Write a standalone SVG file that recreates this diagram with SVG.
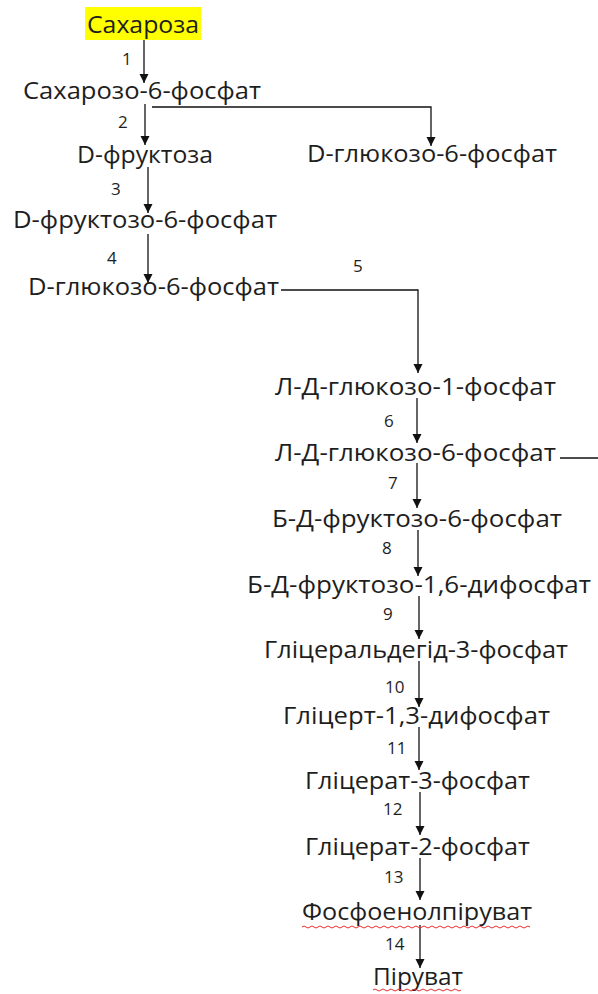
<svg xmlns="http://www.w3.org/2000/svg" width="598" height="994" viewBox="0 0 598 994">
<defs>
<style>
.t{font-family:"Open Sans","Noto Sans","DejaVu Sans",sans-serif;font-size:23px;fill:#1e1e1e}
.n{font-family:"Open Sans","Noto Sans","DejaVu Sans",sans-serif;font-size:17px;fill:#1e1e1e}
.c{stroke:#111;stroke-width:1.3;fill:none}
.w{stroke:#e03030;stroke-width:1;fill:none}
</style>
<marker id="ah" markerWidth="9" markerHeight="10" refX="9" refY="4.5" orient="auto" markerUnits="userSpaceOnUse">
<path d="M0,0 L9,4.5 L0,9 z" fill="#111"/>
</marker>
</defs>
<rect width="598" height="994" fill="#fff"/>
<g id="connectors">
<line class="c" x1="144" y1="36" x2="144" y2="83" marker-end="url(#ah)"/>
<line class="c" x1="145" y1="104" x2="145" y2="145" marker-end="url(#ah)"/>
<polyline class="c" points="152,107 431,107 431,146" marker-end="url(#ah)"/>
<line class="c" x1="148" y1="167" x2="148" y2="213" marker-end="url(#ah)"/>
<line class="c" x1="148" y1="234" x2="148" y2="283" marker-end="url(#ah)"/>
<polyline class="c" points="281,290 418,290 418,373" marker-end="url(#ah)"/>
<line class="c" x1="417" y1="398" x2="417" y2="443" marker-end="url(#ah)"/>
<line class="c" x1="560" y1="458" x2="598" y2="458"/>
<line class="c" x1="417" y1="463" x2="417" y2="508" marker-end="url(#ah)"/>
<line class="c" x1="418" y1="530" x2="418" y2="576" marker-end="url(#ah)"/>
<line class="c" x1="419" y1="596" x2="419" y2="639" marker-end="url(#ah)"/>
<line class="c" x1="419" y1="661" x2="419" y2="707" marker-end="url(#ah)"/>
<line class="c" x1="419" y1="727" x2="419" y2="770" marker-end="url(#ah)"/>
<line class="c" x1="420" y1="792" x2="420" y2="835" marker-end="url(#ah)"/>
<line class="c" x1="420" y1="858" x2="420" y2="900" marker-end="url(#ah)"/>
<line class="c" x1="420" y1="925" x2="420" y2="968" marker-end="url(#ah)"/>
</g>
<g id="n-sakharoza"><rect x="85" y="7" width="116" height="33" fill="#ffff00"/><text class="t" x="87" y="33" textLength="112" lengthAdjust="spacingAndGlyphs">Сахароза</text></g>
<g id="n-s6f"><text class="t" x="23" y="99" textLength="238" lengthAdjust="spacingAndGlyphs">Сахарозо-6-фосфат</text></g>
<g id="n-fruktoza"><text class="t" x="77" y="163" textLength="136" lengthAdjust="spacingAndGlyphs">D-фруктоза</text></g>
<g id="n-g6f-right"><text class="t" x="307" y="162" textLength="250" lengthAdjust="spacingAndGlyphs">D-глюкозо-6-фосфат</text></g>
<g id="n-f6f"><text class="t" x="13" y="228" textLength="264" lengthAdjust="spacingAndGlyphs">D-фруктозо-6-фосфат</text></g>
<g id="n-g6f"><text class="t" x="28" y="295" textLength="251" lengthAdjust="spacingAndGlyphs">D-глюкозо-6-фосфат</text></g>
<g id="n-ldg1f"><text class="t" x="275" y="395" textLength="281" lengthAdjust="spacingAndGlyphs">Л-Д-глюкозо-1-фосфат</text></g>
<g id="n-ldg6f"><text class="t" x="275" y="461" textLength="281" lengthAdjust="spacingAndGlyphs">Л-Д-глюкозо-6-фосфат</text></g>
<g id="n-bdf6f"><text class="t" x="272" y="527" textLength="290" lengthAdjust="spacingAndGlyphs">Б-Д-фруктозо-6-фосфат</text></g>
<g id="n-bdf16"><text class="t" x="247" y="593" textLength="344" lengthAdjust="spacingAndGlyphs">Б-Д-фруктозо-1,6-дифосфат</text></g>
<g id="n-gald"><text class="t" x="264" y="658" textLength="304" lengthAdjust="spacingAndGlyphs">Гліцеральдегід-3-фосфат</text></g>
<g id="n-g13"><text class="t" x="283" y="724" textLength="267" lengthAdjust="spacingAndGlyphs">Гліцерт-1,3-дифосфат</text></g>
<g id="n-g3f"><text class="t" x="305" y="789" textLength="225" lengthAdjust="spacingAndGlyphs">Гліцерат-3-фосфат</text></g>
<g id="n-g2f"><text class="t" x="305" y="855" textLength="225" lengthAdjust="spacingAndGlyphs">Гліцерат-2-фосфат</text></g>
<g id="n-pep"><text class="t" x="302" y="920" textLength="230" lengthAdjust="spacingAndGlyphs">Фосфоенолпіруват</text><path class="w" d="M302,927 q2,-2 4,0 t4,0 t4,0 t4,0 t4,0 t4,0 t4,0 t4,0 t4,0 t4,0 t4,0 t4,0 t4,0 t4,0 t4,0 t4,0 t4,0 t4,0 t4,0 t4,0 t4,0 t4,0 t4,0 t4,0 t4,0 t4,0 t4,0 t4,0 t4,0 t4,0 t4,0 t4,0 t4,0 t4,0 t4,0 t4,0 t4,0 t4,0 t4,0 t4,0 t4,0 t4,0 t4,0 t4,0 t4,0 t4,0 t4,0 t4,0 t4,0 t4,0 t4,0 t4,0 t4,0 t4,0 t4,0 t4,0 t4,0"/></g>
<g id="n-piruvat"><text class="t" x="373" y="985" textLength="90" lengthAdjust="spacingAndGlyphs">Піруват</text><path class="w" d="M373,990 q2,-2 4,0 t4,0 t4,0 t4,0 t4,0 t4,0 t4,0 t4,0 t4,0 t4,0 t4,0 t4,0 t4,0 t4,0 t4,0 t4,0 t4,0 t4,0 t4,0 t4,0 t4,0 t4,0"/></g>
<g id="labels">
<text class="n" x="122" y="65">1</text>
<text class="n" x="118" y="128">2</text>
<text class="n" x="111" y="195">3</text>
<text class="n" x="107" y="264">4</text>
<text class="n" x="353" y="272">5</text>
<text class="n" x="384" y="427">6</text>
<text class="n" x="388" y="489">7</text>
<text class="n" x="382" y="554">8</text>
<text class="n" x="383" y="620">9</text>
<text class="n" x="385" y="693">10</text>
<text class="n" x="387" y="754">11</text>
<text class="n" x="383" y="815">12</text>
<text class="n" x="384" y="883">13</text>
<text class="n" x="385" y="950">14</text>
</g>
</svg>
